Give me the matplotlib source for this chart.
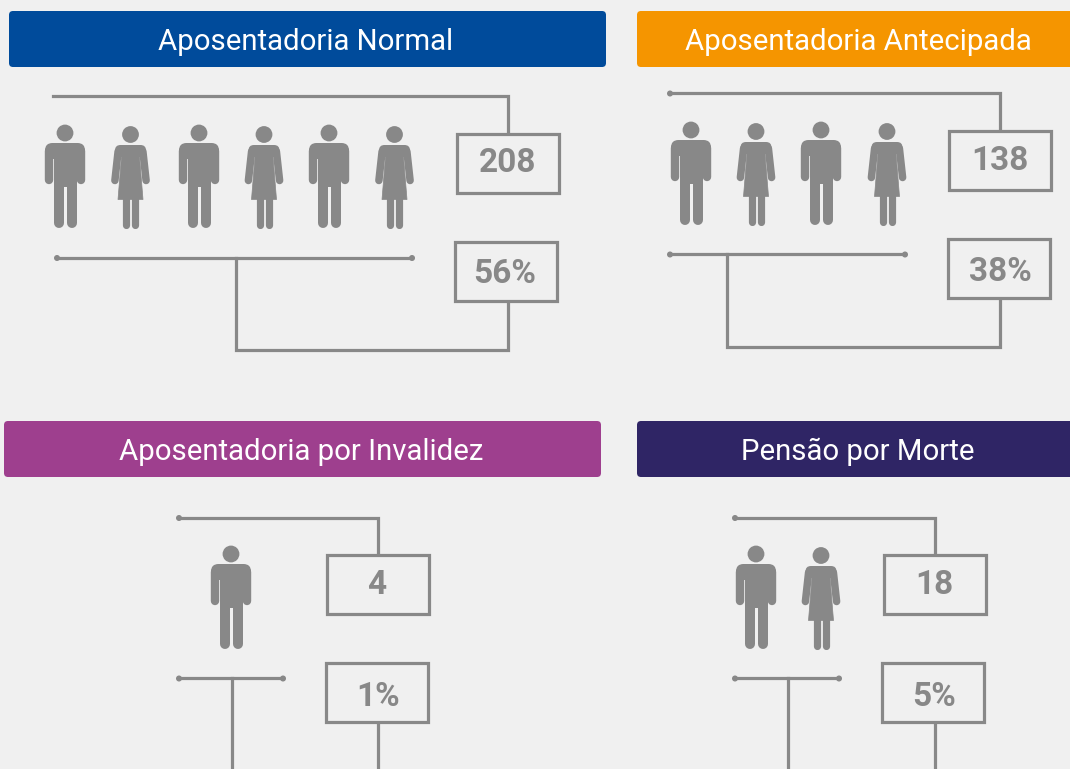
import matplotlib
matplotlib.use('Agg')
import matplotlib.pyplot as plt
from matplotlib.patches import Circle, FancyBboxPatch, Polygon, Rectangle

titles = ['Aposentadoria Normal', 'Aposentadoria Antecipada', 'Aposentadoria por Invalidez', 'Pensão por Morte']
counts = [208, 138, 4, 18]
percents = [56, 38, 1, 5]
title_colors = ['#004b9b', '#f59500', '#9e3f8e', '#2f2565']

GRAY = '#888888'
BG = '#f0f0f0'
LW = 2.3
SHIFT = -0.2

fig = plt.figure(figsize=(10.7, 7.69), dpi=100, facecolor=BG)
ax = fig.add_axes([0, 0, 1, 1])
ax.set_xlim(0, 1070)
ax.set_ylim(769, 0)
ax.axis('off')


def seg(xs, ys):
    xs = [x + SHIFT for x in xs]
    ys = [y + SHIFT for y in ys]
    ax.plot(xs, ys, color=GRAY, lw=LW, solid_capstyle='projecting', solid_joinstyle='miter', zorder=2)


def dot(x, y):
    ax.add_patch(Circle((x, y), 3, color=GRAY, lw=0, zorder=3))


def limb(xs, ys, w):
    ax.plot(xs, ys, color=GRAY, lw=w * 0.72, solid_capstyle='round', solid_joinstyle='round', zorder=2)


def man(cx, hy):
    ax.add_patch(Circle((cx, hy), 8.4, color=GRAY, lw=0, zorder=2))
    # shoulders and trunk
    ax.add_patch(FancyBboxPatch((cx - 20, hy + 10), 40, 16, boxstyle='round,pad=0,rounding_size=7.5',
                                fc=GRAY, ec='none', zorder=2))
    ax.add_patch(Rectangle((cx - 11.5, hy + 14), 23, 40, fc=GRAY, ec='none', zorder=2))
    limb([cx - 16, cx - 16], [hy + 18, hy + 47], 8.4)
    limb([cx + 16, cx + 16], [hy + 18, hy + 47], 8.4)
    limb([cx - 6.5, cx - 6.5], [hy + 45, hy + 89.5], 10)
    limb([cx + 6.5, cx + 6.5], [hy + 45, hy + 89.5], 10)


def woman(cx, hy):
    ax.add_patch(Circle((cx, hy), 8.4, color=GRAY, lw=0, zorder=2))
    # shoulders
    ax.add_patch(FancyBboxPatch((cx - 15.5, hy + 10.5), 31, 12, boxstyle='round,pad=0,rounding_size=5.5',
                                fc=GRAY, ec='none', zorder=2))
    # dress
    ax.add_patch(Polygon([(cx - 8.5, hy + 16), (cx + 8.5, hy + 16), (cx + 12.5, hy + 65), (cx - 12.5, hy + 65)],
                         closed=True, fc=GRAY, ec=GRAY, lw=0.5, joinstyle='round', zorder=2))
    limb([cx - 12.4, cx - 15.6], [hy + 17, hy + 46], 7.5)
    limb([cx + 12.4, cx + 15.6], [hy + 17, hy + 46], 7.5)
    limb([cx - 4.5, cx - 4.5], [hy + 62, hy + 90], 7.2)
    limb([cx + 4.5, cx + 4.5], [hy + 62, hy + 90], 7.2)


def header(x0, x1, y0, y1, color, label, tx):
    ax.add_patch(FancyBboxPatch((x0, y0), x1 - x0, y1 - y0, boxstyle='round,pad=0,rounding_size=4',
                                fc=color, ec='none', zorder=1))
    ax.text(tx, (y0 + y1) / 2 - 0.5, label, color='white', fontsize=21.2, family='Roboto', ha='center',
            va='center_baseline', zorder=4)


def box(x0, y0, label, dx=0, dy=0):
    ax.add_patch(Rectangle((x0 + SHIFT, y0 + SHIFT), 102, 59, fc=BG, ec=GRAY, lw=LW, zorder=3))
    ax.text(x0 + 51 + dx, y0 + 29.5 + dy, label, color=GRAY, fontsize=24, family='Roboto', fontweight='bold',
            ha='center', va='center_baseline', zorder=4)


# Aposentadoria Normal
header(9, 606, 11, 67, title_colors[0], titles[0], 306)
seg([53, 508, 508], [96.5, 96.5, 134])
for cx in [65, 199, 329]:
    man(cx, 133)
for cx in [130.5, 264, 394.5]:
    woman(cx, 134.5)
seg([57, 412], [258, 258])
dot(57, 258)
dot(412, 258)
seg([236, 236, 508, 508], [258, 350, 350, 301])
box(457, 134, str(counts[0]), dx=-0.5, dy=-3.5)
box(455, 242, f'{percents[0]}%', dx=-1, dy=-1)

# Aposentadoria Antecipada
header(637, 1080, 11, 67, title_colors[1], titles[1], 858)
seg([670, 1000, 1000], [93.5, 93.5, 131])
dot(670, 93.5)
for cx in [691, 821]:
    man(cx, 130)
for cx in [756, 887]:
    woman(cx, 131.5)
seg([670, 905], [254.5, 254.5])
dot(670, 254.5)
dot(905, 254.5)
seg([727, 727, 1000, 1000], [254.5, 347, 347, 298])
box(949, 131, str(counts[1]), dy=-3)
box(948, 239, f'{percents[1]}%', dx=1)

# Aposentadoria por Invalidez
header(4, 601, 421, 477, title_colors[2], titles[2], 301)
seg([179, 378, 378], [518, 518, 555])
dot(179, 518)
man(231, 554)
seg([179, 283], [678.5, 678.5])
dot(179, 678.5)
dot(283, 678.5)
seg([232, 232], [678.5, 775])
seg([378, 378], [722, 775])
box(327, 555, str(counts[2]), dx=-1, dy=-2.5)
box(326, 663, f'{percents[2]}%', dx=1, dy=1)

# Pensão por Morte
header(637, 1080, 421, 477, title_colors[3], titles[3], 858)
seg([735, 935, 935], [518, 518, 555])
dot(735, 518)
man(756, 554)
woman(821, 555.5)
seg([735, 839], [678.5, 678.5])
dot(735, 678.5)
dot(839, 678.5)
seg([788, 788], [678.5, 775])
seg([935, 935], [722, 775])
box(884, 555, str(counts[3]), dx=-0.5, dy=-2.5)
box(882, 663, f'{percents[3]}%', dx=1, dy=1)

fig.savefig('out.png', dpi=100, facecolor=BG)
